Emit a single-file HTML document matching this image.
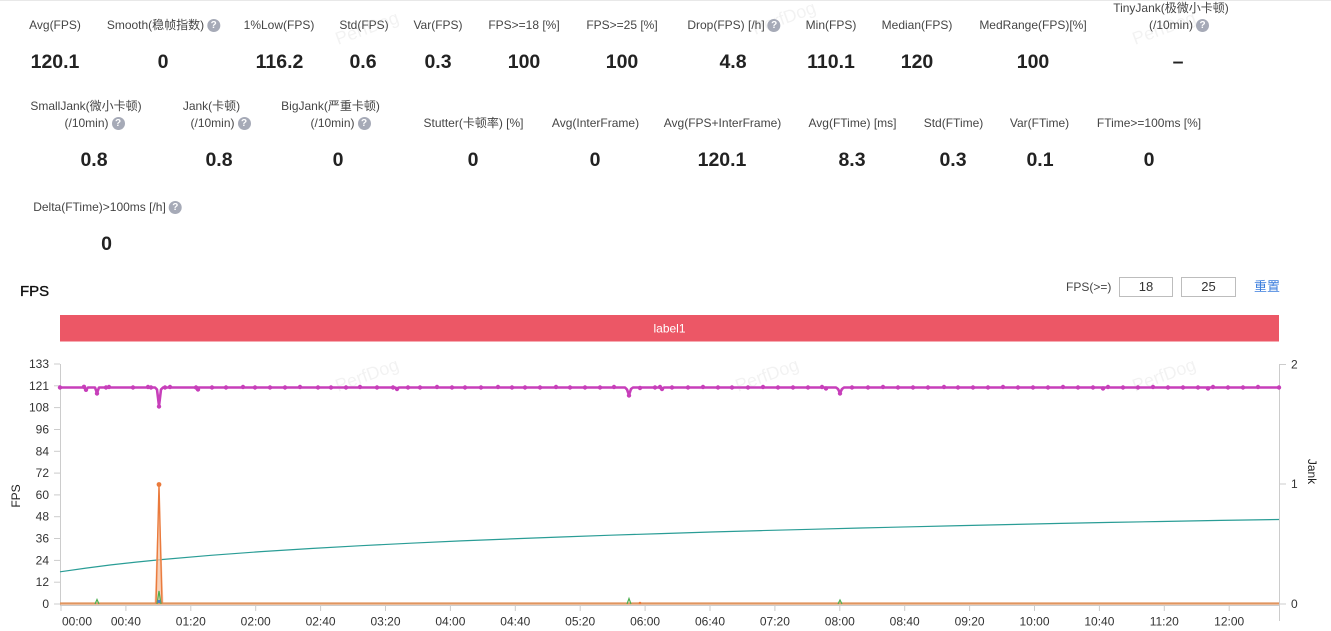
<!DOCTYPE html>
<html><head><meta charset="utf-8">
<style>
*{margin:0;padding:0;box-sizing:border-box}
body{width:1331px;height:631px;background:#fff;position:relative;overflow:hidden;font-family:"Liberation Sans","Noto Sans CJK SC",sans-serif;color:#444}
.l{position:absolute;font-size:12px;line-height:17px;white-space:nowrap;transform:translateX(-50%);color:#454545}
.v{position:absolute;font-size:19.5px;line-height:22px;font-weight:bold;white-space:nowrap;transform:translateX(-50%);color:#222}
.q{position:absolute;left:100%;top:2px;margin-left:3px;width:13px;height:13px;border-radius:50%;background:#a6aab7;color:#fff;font-size:10px;line-height:13px;text-align:center;font-weight:bold;font-family:"Liberation Sans",sans-serif}
.box{position:absolute;border:1px solid #bdbdbd;font-size:13px;line-height:18px;text-align:center;color:#333}
svg{position:absolute;left:0;top:0}
</style></head><body>
<svg width="1331" height="631" viewBox="0 0 1331 631" xmlns="http://www.w3.org/2000/svg" font-family="Liberation Sans, sans-serif">
<line x1="0" y1="0.5" x2="1331" y2="0.5" stroke="#e8e8e8"/>
<g fill="#000" fill-opacity="0.05" font-size="18">
<text x="338" y="45" transform="rotate(-20 338 45)">PerfDog</text>
<text x="755" y="35" transform="rotate(-20 755 35)">PerfDog</text>
<text x="1135" y="45" transform="rotate(-20 1135 45)">PerfDog</text>
<text x="338" y="392" transform="rotate(-20 338 392)">PerfDog</text>
<text x="738" y="392" transform="rotate(-20 738 392)">PerfDog</text>
<text x="1135" y="392" transform="rotate(-20 1135 392)">PerfDog</text>
</g>
<rect x="60" y="315" width="1219" height="26.5" fill="#ec5766"/>
<text x="669.5" y="332.5" fill="#fff" font-size="12" text-anchor="middle">label1</text>
<!-- axes -->
<g stroke="#cccccc" stroke-width="1">
<line x1="60.5" y1="364" x2="60.5" y2="605"/>
<line x1="1279.5" y1="364" x2="1279.5" y2="621"/>
<line x1="60" y1="605.5" x2="1279" y2="605.5"/>
<line x1="54" y1="604" x2="60" y2="604"/><line x1="54" y1="582.2" x2="60" y2="582.2"/><line x1="54" y1="560.4" x2="60" y2="560.4"/><line x1="54" y1="538.5" x2="60" y2="538.5"/><line x1="54" y1="516.7" x2="60" y2="516.7"/><line x1="54" y1="494.9" x2="60" y2="494.9"/><line x1="54" y1="473.1" x2="60" y2="473.1"/><line x1="54" y1="451.3" x2="60" y2="451.3"/><line x1="54" y1="429.5" x2="60" y2="429.5"/><line x1="54" y1="407.6" x2="60" y2="407.6"/><line x1="54" y1="385.8" x2="60" y2="385.8"/><line x1="54" y1="364" x2="60" y2="364"/>
<line x1="1280" y1="364.5" x2="1286" y2="364.5"/><line x1="1280" y1="484" x2="1286" y2="484"/><line x1="1280" y1="604" x2="1286" y2="604"/>
<line x1="61" y1="605" x2="61" y2="611"/><line x1="125.9" y1="605" x2="125.9" y2="611"/><line x1="190.8" y1="605" x2="190.8" y2="611"/><line x1="255.7" y1="605" x2="255.7" y2="611"/><line x1="320.6" y1="605" x2="320.6" y2="611"/><line x1="385.5" y1="605" x2="385.5" y2="611"/><line x1="450.4" y1="605" x2="450.4" y2="611"/><line x1="515.3" y1="605" x2="515.3" y2="611"/><line x1="580.2" y1="605" x2="580.2" y2="611"/><line x1="645.1" y1="605" x2="645.1" y2="611"/><line x1="710" y1="605" x2="710" y2="611"/><line x1="774.9" y1="605" x2="774.9" y2="611"/><line x1="839.8" y1="605" x2="839.8" y2="611"/><line x1="904.7" y1="605" x2="904.7" y2="611"/><line x1="969.6" y1="605" x2="969.6" y2="611"/><line x1="1034.5" y1="605" x2="1034.5" y2="611"/><line x1="1099.4" y1="605" x2="1099.4" y2="611"/><line x1="1164.3" y1="605" x2="1164.3" y2="611"/><line x1="1229.2" y1="605" x2="1229.2" y2="611"/>
</g>
<g fill="#333" font-size="12" text-anchor="end">
<text x="49" y="608">0</text><text x="49" y="586.2">12</text><text x="49" y="564.4">24</text><text x="49" y="542.5">36</text><text x="49" y="520.7">48</text><text x="49" y="498.9">60</text><text x="49" y="477.1">72</text><text x="49" y="455.3">84</text><text x="49" y="433.5">96</text><text x="49" y="411.6">108</text><text x="49" y="389.8">121</text><text x="49" y="368">133</text>
</g>
<g fill="#333" font-size="12">
<text x="1291" y="368.5">2</text><text x="1291" y="488">1</text><text x="1291" y="608">0</text>
</g>
<g fill="#333" font-size="12" text-anchor="middle">
<text x="62" y="625.5" text-anchor="start">00:00</text><text x="125.9" y="625.5">00:40</text><text x="190.8" y="625.5">01:20</text><text x="255.7" y="625.5">02:00</text><text x="320.6" y="625.5">02:40</text><text x="385.5" y="625.5">03:20</text><text x="450.4" y="625.5">04:00</text><text x="515.3" y="625.5">04:40</text><text x="580.2" y="625.5">05:20</text><text x="645.1" y="625.5">06:00</text><text x="710" y="625.5">06:40</text><text x="774.9" y="625.5">07:20</text><text x="839.8" y="625.5">08:00</text><text x="904.7" y="625.5">08:40</text><text x="969.6" y="625.5">09:20</text><text x="1034.5" y="625.5">10:00</text><text x="1099.4" y="625.5">10:40</text><text x="1164.3" y="625.5">11:20</text><text x="1229.2" y="625.5">12:00</text>
</g>
<text x="16" y="496" font-size="12" fill="#222" text-anchor="middle" dominant-baseline="central" transform="rotate(-90 16 496)">FPS</text>
<text x="1312" y="471.5" font-size="12" fill="#222" text-anchor="middle" dominant-baseline="central" transform="rotate(90 1312 471.5)">Jank</text>
<!-- teal -->
<polyline fill="none" stroke="#2a9d96" stroke-width="1.2" points="60,571.8 86,568.1 111,564.9 136,562.1 161,559.6 211,555.3 261,551.6 311,548.5 361,545.7 411,543.2 461,540.9 511,538.9 561,537 611,535.2 661,533.6 711,532 761,530.6 811,529.3 861,528 911,526.8 961,525.6 1011,524.5 1061,523.4 1111,522.4 1161,521.5 1221,520.4 1279,519.5"/>
<!-- orange -->
<polygon points="154.5,604 159,484.5 163.5,604" fill="#f6c2a0" fill-opacity="0.75"/>
<line x1="60" y1="603.5" x2="1279" y2="603.5" stroke="#e0955f" stroke-width="2.2"/>
<path d="M156,603.5 L159,484.5 L162,603.5" fill="none" stroke="#ea7a3c" stroke-width="1.4"/>
<circle cx="159" cy="484.5" r="2.4" fill="#ea7a3c"/>
<g fill="none" stroke="#4caf50" stroke-width="1.2">
<path d="M95,604 L97,599.5 L99,604"/><path d="M157,604 L159,591 L161,604"/><path d="M627,604 L629,598.5 L631,604"/><path d="M838,604 L840,600 L842,604"/>
</g>
<circle cx="159" cy="601.5" r="1.6" fill="#4a7fd0"/>
<circle cx="640" cy="603" r="1.3" fill="#ea7a3c"/>
<!-- magenta FPS -->
<polyline fill="none" stroke="#c73fba" stroke-width="2.6" stroke-linejoin="round" points="60,387.5 84,387.5 86,389.5 88,387.5 95,387.5 97,393 99,387.5 155,387.5 157,389.5 159,406 161,389.5 163,387.5 395,387.5 397,388.8 399,387.5 625,387.5 627,389.5 629,395 631,389 633,387.5 660,387.5 662,389 664,387.5 836,387.5 838,389 840,393 842,389 844,387.5 1279,387.5"/>
<g fill="#c73fba">
<circle cx="60" cy="387.5" r="2.2"/><circle cx="84" cy="386.8" r="2.2"/><circle cx="86" cy="389.8" r="2.2"/><circle cx="97" cy="393.5" r="2.2"/><circle cx="106" cy="387.5" r="2.2"/><circle cx="109" cy="387" r="2.2"/><circle cx="133" cy="387.5" r="2.2"/><circle cx="148" cy="387" r="2.2"/><circle cx="151" cy="387.5" r="2.2"/><circle cx="159" cy="406.5" r="2.2"/><circle cx="165" cy="387.5" r="2.2"/><circle cx="170" cy="387" r="2.2"/><circle cx="196" cy="387.5" r="2.2"/><circle cx="198" cy="389.5" r="2.2"/><circle cx="212" cy="387.5" r="2.2"/><circle cx="226" cy="387.5" r="2.2"/><circle cx="243" cy="387" r="2.2"/><circle cx="255" cy="387.5" r="2.2"/><circle cx="270" cy="387.5" r="2.2"/><circle cx="285" cy="387.5" r="2.2"/><circle cx="300" cy="387" r="2.2"/><circle cx="318" cy="387.5" r="2.2"/><circle cx="331" cy="387.5" r="2.2"/><circle cx="346" cy="387.5" r="2.2"/><circle cx="360" cy="387" r="2.2"/><circle cx="377" cy="387.5" r="2.2"/><circle cx="393" cy="387.5" r="2.2"/><circle cx="397" cy="389" r="2.2"/><circle cx="408" cy="387.5" r="2.2"/><circle cx="420" cy="387.5" r="2.2"/><circle cx="437" cy="387" r="2.2"/><circle cx="452" cy="387.5" r="2.2"/><circle cx="465" cy="387.5" r="2.2"/><circle cx="481" cy="387.5" r="2.2"/><circle cx="498" cy="387" r="2.2"/><circle cx="512" cy="387.5" r="2.2"/><circle cx="525" cy="387.5" r="2.2"/><circle cx="540" cy="387.5" r="2.2"/><circle cx="556" cy="387" r="2.2"/><circle cx="570" cy="387.5" r="2.2"/><circle cx="585" cy="387.5" r="2.2"/><circle cx="600" cy="387.5" r="2.2"/><circle cx="614" cy="387" r="2.2"/><circle cx="629" cy="395.5" r="2.2"/><circle cx="640" cy="388" r="2.2"/><circle cx="655" cy="387.5" r="2.2"/><circle cx="660" cy="387" r="2.2"/><circle cx="662" cy="389" r="2.2"/><circle cx="672" cy="387.5" r="2.2"/><circle cx="688" cy="387.5" r="2.2"/><circle cx="703" cy="387" r="2.2"/><circle cx="718" cy="387.5" r="2.2"/><circle cx="732" cy="387.5" r="2.2"/><circle cx="748" cy="387.5" r="2.2"/><circle cx="763" cy="387" r="2.2"/><circle cx="778" cy="387.5" r="2.2"/><circle cx="793" cy="387.5" r="2.2"/><circle cx="808" cy="387.5" r="2.2"/><circle cx="822" cy="387" r="2.2"/><circle cx="826" cy="388.5" r="2.2"/><circle cx="840" cy="393.5" r="2.2"/><circle cx="852" cy="387.5" r="2.2"/><circle cx="868" cy="387.5" r="2.2"/><circle cx="883" cy="387" r="2.2"/><circle cx="898" cy="387.5" r="2.2"/><circle cx="913" cy="387.5" r="2.2"/><circle cx="928" cy="387.5" r="2.2"/><circle cx="944" cy="387" r="2.2"/><circle cx="958" cy="387.5" r="2.2"/><circle cx="973" cy="387.5" r="2.2"/><circle cx="988" cy="387.5" r="2.2"/><circle cx="1003" cy="387" r="2.2"/><circle cx="1018" cy="387.5" r="2.2"/><circle cx="1033" cy="387.5" r="2.2"/><circle cx="1048" cy="387.5" r="2.2"/><circle cx="1063" cy="387" r="2.2"/><circle cx="1078" cy="387.5" r="2.2"/><circle cx="1093" cy="387.5" r="2.2"/><circle cx="1103" cy="388.5" r="2.2"/><circle cx="1108" cy="387" r="2.2"/><circle cx="1123" cy="387.5" r="2.2"/><circle cx="1138" cy="387.5" r="2.2"/><circle cx="1153" cy="387" r="2.2"/><circle cx="1168" cy="387.5" r="2.2"/><circle cx="1183" cy="387.5" r="2.2"/><circle cx="1198" cy="387.5" r="2.2"/><circle cx="1208" cy="388.5" r="2.2"/><circle cx="1213" cy="387" r="2.2"/><circle cx="1228" cy="387.5" r="2.2"/><circle cx="1243" cy="387.5" r="2.2"/><circle cx="1258" cy="387" r="2.2"/><circle cx="1279" cy="387.5" r="2.2"/>
</g>
</svg>

<!-- Row 1 labels -->
<div class="l" style="left:55px;top:16.5px">Avg(FPS)</div>
<div class="l" style="left:155.5px;top:16.5px">Smooth(稳帧指数)<span class="q">?</span></div>
<div class="l" style="left:279px;top:16.5px">1%Low(FPS)</div>
<div class="l" style="left:364px;top:16.5px">Std(FPS)</div>
<div class="l" style="left:438px;top:16.5px">Var(FPS)</div>
<div class="l" style="left:524px;top:16.5px">FPS&gt;=18 [%]</div>
<div class="l" style="left:622px;top:16.5px">FPS&gt;=25 [%]</div>
<div class="l" style="left:726px;top:16.5px">Drop(FPS) [/h]<span class="q">?</span></div>
<div class="l" style="left:831px;top:16.5px">Min(FPS)</div>
<div class="l" style="left:917px;top:16.5px">Median(FPS)</div>
<div class="l" style="left:1033px;top:16.5px">MedRange(FPS)[%]</div>
<div class="l" style="left:1171px;top:-0.5px">TinyJank(极微小卡顿)</div>
<div class="l" style="left:1171px;top:16.5px">(/10min)<span class="q">?</span></div>
<!-- Row 1 values -->
<div class="v" style="left:55px;top:50.5px">120.1</div>
<div class="v" style="left:163px;top:50.5px">0</div>
<div class="v" style="left:279.5px;top:50.5px">116.2</div>
<div class="v" style="left:363px;top:50.5px">0.6</div>
<div class="v" style="left:438px;top:50.5px">0.3</div>
<div class="v" style="left:524px;top:50.5px">100</div>
<div class="v" style="left:622px;top:50.5px">100</div>
<div class="v" style="left:733px;top:50.5px">4.8</div>
<div class="v" style="left:831px;top:50.5px">110.1</div>
<div class="v" style="left:917px;top:50.5px">120</div>
<div class="v" style="left:1033px;top:50.5px">100</div>
<div class="v" style="left:1178px;top:50.5px">–</div>
<!-- Row 2 labels -->
<div class="l" style="left:86px;top:98.3px">SmallJank(微小卡顿)</div>
<div class="l" style="left:86.5px;top:115.3px">(/10min)<span class="q">?</span></div>
<div class="l" style="left:211.5px;top:98.3px">Jank(卡顿)</div>
<div class="l" style="left:212.5px;top:115.3px">(/10min)<span class="q">?</span></div>
<div class="l" style="left:330.5px;top:98.3px">BigJank(严重卡顿)</div>
<div class="l" style="left:332.5px;top:115.3px">(/10min)<span class="q">?</span></div>
<div class="l" style="left:473.5px;top:115.3px">Stutter(卡顿率) [%]</div>
<div class="l" style="left:595.5px;top:115.3px">Avg(InterFrame)</div>
<div class="l" style="left:722.5px;top:115.3px">Avg(FPS+InterFrame)</div>
<div class="l" style="left:852.5px;top:115.3px">Avg(FTime) [ms]</div>
<div class="l" style="left:953.5px;top:115.3px">Std(FTime)</div>
<div class="l" style="left:1039.5px;top:115.3px">Var(FTime)</div>
<div class="l" style="left:1149px;top:115.3px">FTime&gt;=100ms [%]</div>
<!-- Row 2 values -->
<div class="v" style="left:94px;top:149px">0.8</div>
<div class="v" style="left:219px;top:149px">0.8</div>
<div class="v" style="left:338px;top:149px">0</div>
<div class="v" style="left:473px;top:149px">0</div>
<div class="v" style="left:595px;top:149px">0</div>
<div class="v" style="left:722px;top:149px">120.1</div>
<div class="v" style="left:852px;top:149px">8.3</div>
<div class="v" style="left:953px;top:149px">0.3</div>
<div class="v" style="left:1040px;top:149px">0.1</div>
<div class="v" style="left:1149px;top:149px">0</div>
<!-- Row 3 -->
<div class="l" style="left:99.5px;top:198.6px">Delta(FTime)&gt;100ms [/h]<span class="q">?</span></div>
<div class="v" style="left:106.5px;top:233px">0</div>

<!-- chart header -->
<div style="position:absolute;left:20px;top:282.5px;font-size:15px;line-height:18px;color:#111;-webkit-text-stroke:0.35px #111">FPS</div>
<div style="position:absolute;left:1066px;top:278.5px;font-size:12px;line-height:17px;color:#444;white-space:nowrap">FPS(&gt;=)</div>
<div class="box" style="left:1119px;top:277px;width:54px;height:20px">18</div>
<div class="box" style="left:1181px;top:277px;width:55px;height:20px">25</div>
<div style="position:absolute;left:1254px;top:278px;font-size:13px;line-height:18px;color:#3b7ddd;white-space:nowrap">重置</div>
</body></html>
